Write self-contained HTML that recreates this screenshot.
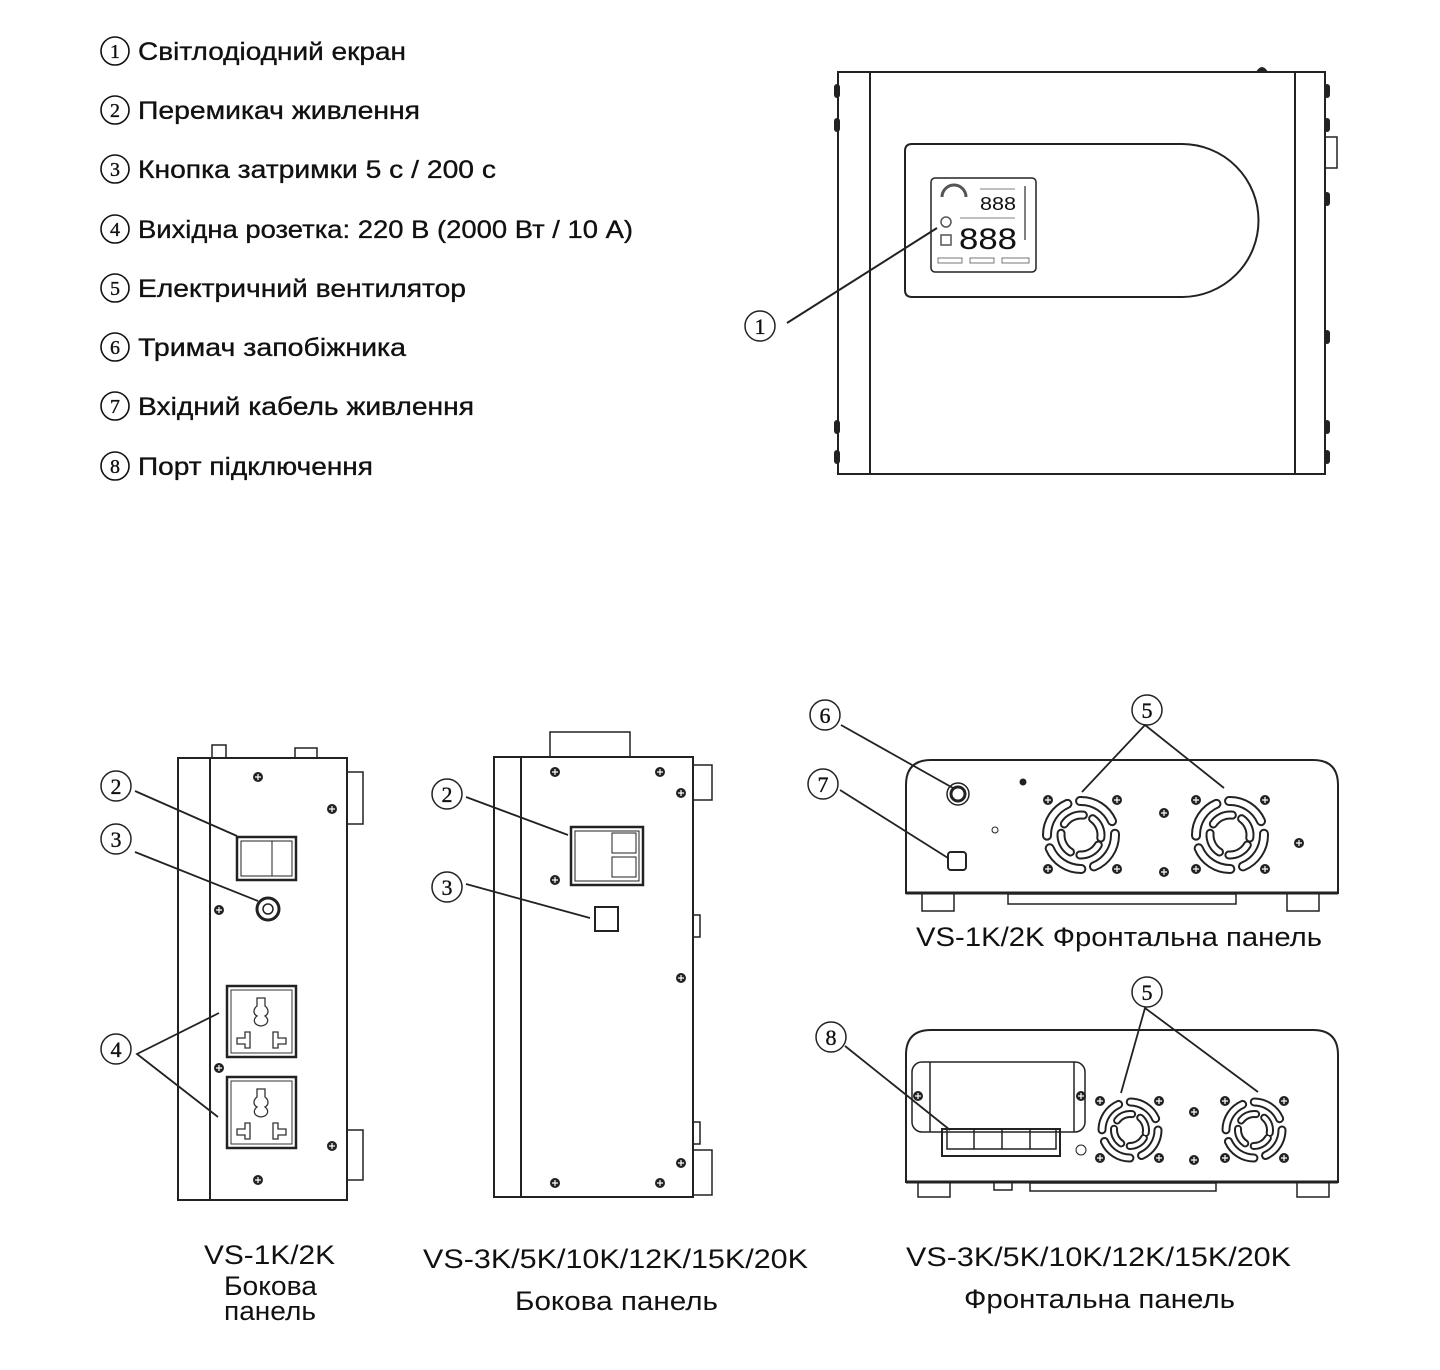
<!DOCTYPE html>
<html><head><meta charset="utf-8">
<style>
html,body{margin:0;padding:0;background:#fff;}
svg{display:block;}
.t{font-family:"Liberation Sans","DejaVu Sans",sans-serif;fill:#111;}
.n{font-family:"Liberation Serif",serif;fill:#111;}
.lg{stroke:#111;stroke-width:0.35;}
</style></head><body>
<svg width="1440" height="1370" viewBox="0 0 1440 1370" xmlns="http://www.w3.org/2000/svg">
<defs>
<g id="scr"><circle r="5" fill="#222"/><path d="M-3,0H3M0,-3V3" stroke="#fff" stroke-width="1.2"/></g>
<g id="fan1">
 <circle r="34" fill="none" stroke="#222" stroke-width="10" stroke-dasharray="40 13" stroke-linecap="round"/>
 <circle r="34" fill="none" stroke="#fff" stroke-width="6" stroke-dasharray="40 13" stroke-linecap="round"/>
 <circle r="20" fill="none" stroke="#222" stroke-width="9" stroke-dasharray="22 10" stroke-linecap="round" transform="rotate(30)"/>
 <circle r="20" fill="none" stroke="#fff" stroke-width="5" stroke-dasharray="22 10" stroke-linecap="round" transform="rotate(30)"/>
</g>
<g id="fan2">
 <circle r="28" fill="none" stroke="#222" stroke-width="9" stroke-dasharray="32 12" stroke-linecap="round"/>
 <circle r="28" fill="none" stroke="#fff" stroke-width="5" stroke-dasharray="32 12" stroke-linecap="round"/>
 <circle r="16" fill="none" stroke="#222" stroke-width="8" stroke-dasharray="17 9" stroke-linecap="round" transform="rotate(30)"/>
 <circle r="16" fill="none" stroke="#fff" stroke-width="4" stroke-dasharray="17 9" stroke-linecap="round" transform="rotate(30)"/>
</g>
<g id="sock">
 <rect x="0" y="0" width="69" height="71" fill="none" stroke="#222" stroke-width="2.5"/>
 <rect x="4" y="4" width="61" height="63" fill="none" stroke="#333" stroke-width="1"/>
 <path d="M30,12 h8 v8 c4,3 4,8 0,10 c4,3 4,9 -4,10 c-8,-1 -8,-7 -4,-10 c-4,-2 -4,-7 0,-10z" fill="none" stroke="#333" stroke-width="1.3"/>
 <path d="M10,52 h8 v-6 h5 v16 h-5 v-4 h-8z" fill="none" stroke="#333" stroke-width="1.3"/>
 <path d="M59,52 h-8 v-6 h-5 v16 h5 v-4 h8z" fill="none" stroke="#333" stroke-width="1.3"/>
</g>
</defs>

<!-- legend -->
<g stroke="#111" stroke-width="1.6" fill="none">
<circle cx="115" cy="51" r="14"/><circle cx="115" cy="110" r="14"/><circle cx="115" cy="169" r="14"/><circle cx="115" cy="229" r="14"/>
<circle cx="115" cy="288" r="14"/><circle cx="115" cy="347" r="14"/><circle cx="115" cy="406" r="14"/><circle cx="115" cy="466" r="14"/>
</g>
<g class="n lg" font-size="20" text-anchor="middle">
<text x="115" y="58">1</text><text x="115" y="117">2</text><text x="115" y="176">3</text><text x="115" y="236">4</text>
<text x="115" y="295">5</text><text x="115" y="354">6</text><text x="115" y="413">7</text><text x="115" y="473">8</text>
</g>
<g class="t lg" font-size="25">
<text x="138" y="60" textLength="268" lengthAdjust="spacingAndGlyphs">Світлодіодний екран</text>
<text x="138" y="119" textLength="282" lengthAdjust="spacingAndGlyphs">Перемикач живлення</text>
<text x="138" y="178" textLength="358" lengthAdjust="spacingAndGlyphs">Кнопка затримки 5 с / 200 с</text>
<text x="138" y="238" textLength="495" lengthAdjust="spacingAndGlyphs">Вихідна розетка: 220 В (2000 Вт / 10 А)</text>
<text x="138" y="297" textLength="328" lengthAdjust="spacingAndGlyphs">Електричний вентилятор</text>
<text x="138" y="356" textLength="268" lengthAdjust="spacingAndGlyphs">Тримач запобіжника</text>
<text x="138" y="415" textLength="336" lengthAdjust="spacingAndGlyphs">Вхідний кабель живлення</text>
<text x="138" y="475" textLength="235" lengthAdjust="spacingAndGlyphs">Порт підключення</text>
</g>

<!-- top device -->
<g stroke="#222" fill="none" stroke-width="2">
<rect x="838" y="72" width="487" height="402"/>
<line x1="870" y1="72" x2="870" y2="474"/><line x1="1295" y1="72" x2="1295" y2="474"/>
<path d="M912,144 H1182 A76.5,76.5 0 0 1 1182,297 H912 Q905,297 905,290 V151 Q905,144 912,144Z"/>
<rect x="931" y="178" width="105" height="94" rx="4" stroke-width="1.5"/>
<rect x="1325" y="137" width="12" height="31" stroke-width="1.5"/>
<line x1="937" y1="228" x2="787" y2="323"/>
<circle cx="760" cy="326" r="15" stroke-width="1.5"/>
</g>
<g fill="#222">
<rect x="834" y="84" width="6" height="14" rx="3"/><rect x="834" y="118" width="6" height="14" rx="3"/>
<rect x="834" y="420" width="6" height="14" rx="3"/><rect x="834" y="450" width="6" height="14" rx="3"/>
<rect x="1324" y="84" width="6" height="14" rx="3"/><rect x="1324" y="118" width="6" height="14" rx="3"/>
<rect x="1324" y="192" width="6" height="14" rx="3"/><rect x="1324" y="330" width="6" height="14" rx="3"/>
<rect x="1324" y="420" width="6" height="14" rx="3"/><rect x="1324" y="450" width="6" height="14" rx="3"/>
<path d="M1256,72 q6,-10 12,0z"/>
</g>
<g stroke="#555" fill="none" stroke-width="1.5">
<path d="M942,197 a12,12 0 0 1 24,0" stroke-width="3"/>
<text x="980" y="210" class="t" font-size="18" fill="#444" stroke="none" textLength="36" lengthAdjust="spacingAndGlyphs">888</text>
<text x="959" y="249" class="t" font-size="30" fill="#444" stroke="none" textLength="58" lengthAdjust="spacingAndGlyphs">888</text>
<line x1="980" y1="189" x2="1015" y2="189" stroke-width="0.8"/><line x1="960" y1="218" x2="1015" y2="218" stroke-width="0.8"/>
<circle cx="946" cy="222" r="5"/><rect x="941" y="235" width="10" height="10"/>
<line x1="1025" y1="186" x2="1025" y2="240"/>
<rect x="938" y="258" width="24" height="5" stroke-width="0.8"/><rect x="970" y="258" width="24" height="5" stroke-width="0.8"/><rect x="1002" y="258" width="27" height="5" stroke-width="0.8"/>
</g>
<text x="760" y="334" class="n lg" font-size="22" text-anchor="middle">1</text>

<!-- side panel 1 -->
<g stroke="#222" fill="none" stroke-width="2">
<rect x="178" y="758" width="169" height="442"/>
<line x1="210" y1="758" x2="210" y2="1200"/>
<path d="M348,772 h15 v52 h-15 M348,1130 h15 v50 h-15" stroke-width="1.5"/>
<rect x="237" y="837" width="59" height="43" stroke-width="2.5"/><rect x="241" y="841" width="51" height="35" stroke-width="1"/><line x1="272" y1="841" x2="272" y2="876" stroke-width="1"/>
<circle cx="268" cy="909" r="11" stroke-width="3"/><circle cx="268" cy="909" r="5" stroke-width="1.5"/>
<line x1="135" y1="791" x2="237" y2="836" stroke-width="1.8"/>
<line x1="135" y1="852" x2="258" y2="901" stroke-width="1.8"/>
<polyline points="219,1013 137,1054 218,1117" stroke-width="1.8"/>
<circle cx="116" cy="786" r="15" stroke-width="1.5"/><circle cx="116" cy="839" r="15" stroke-width="1.5"/><circle cx="116" cy="1049" r="15" stroke-width="1.5"/>
<rect x="212" y="745" width="14" height="13" stroke-width="1.5"/><rect x="295" y="748" width="22" height="10" stroke-width="1.5"/>
</g>
<use href="#sock" x="227" y="986"/><use href="#sock" x="227" y="1077"/>
<use href="#scr" x="258" y="777"/><use href="#scr" x="332" y="809"/><use href="#scr" x="219" y="910"/><use href="#scr" x="219" y="1068"/><use href="#scr" x="332" y="1146"/><use href="#scr" x="258" y="1180"/>
<g class="n lg" font-size="22" text-anchor="middle"><text x="116" y="794">2</text><text x="116" y="847">3</text><text x="116" y="1057">4</text></g>

<!-- side panel 2 -->
<g stroke="#222" fill="none" stroke-width="2">
<rect x="494" y="757" width="199" height="440"/>
<line x1="521" y1="757" x2="521" y2="1197"/>
<rect x="550" y="732" width="80" height="25" stroke-width="1.5"/>
<path d="M694,765 h18 v35 h-18 M694,1150 h18 v45 h-18 M694,915 h6 v22 h-6 M694,1122 h6 v22 h-6" stroke-width="1.5"/>
<rect x="571" y="827" width="72" height="58" stroke-width="2.5"/><rect x="575" y="831" width="64" height="50" stroke-width="1"/>
<rect x="612" y="833" width="24" height="20" stroke-width="1"/><rect x="612" y="857" width="24" height="20" stroke-width="1"/>
<rect x="595" y="907" width="23" height="24" stroke-width="2"/>
<line x1="466" y1="797" x2="568" y2="835" stroke-width="1.8"/>
<line x1="466" y1="884" x2="590" y2="918" stroke-width="1.8"/>
<circle cx="447" cy="794" r="15" stroke-width="1.5"/><circle cx="447" cy="887" r="15" stroke-width="1.5"/>
</g>
<use href="#scr" x="555" y="772"/><use href="#scr" x="660" y="772"/><use href="#scr" x="681" y="793"/><use href="#scr" x="555" y="880"/><use href="#scr" x="681" y="978"/><use href="#scr" x="681" y="1163"/><use href="#scr" x="555" y="1183"/><use href="#scr" x="660" y="1183"/>
<g class="n lg" font-size="22" text-anchor="middle"><text x="447" y="802">2</text><text x="447" y="895">3</text></g>

<!-- front panel 1 -->
<g stroke="#222" fill="none" stroke-width="2">
<path d="M906,893 V785 Q906,760 931,760 H1313 Q1338,760 1338,785 V893 Z"/>
<line x1="906" y1="893" x2="1338" y2="893" stroke-width="3"/>
<path d="M922,893 v18 h32 v-18 M1287,893 v18 h32 v-18" stroke-width="1.5"/>
<rect x="1008" y="894" width="228" height="10" stroke-width="1.5"/>
<circle cx="958" cy="794" r="11" stroke-width="1.5"/><circle cx="958" cy="794" r="7" stroke-width="3"/>
<rect x="948" y="852" width="18" height="18" rx="3" stroke-width="2"/>
<circle cx="995" cy="830" r="3" stroke-width="1"/><circle cx="1023" cy="782" r="2.5" fill="#222"/>
<line x1="841" y1="725" x2="953" y2="788" stroke-width="1.8"/>
<line x1="840" y1="790" x2="948" y2="858" stroke-width="1.8"/>
<polyline points="1082,792 1145,725 1224,788" stroke-width="1.8"/>
<circle cx="825" cy="715" r="15" stroke-width="1.5"/><circle cx="823" cy="784" r="15" stroke-width="1.5"/><circle cx="1147" cy="710" r="15" stroke-width="1.5"/>
</g>
<use href="#fan1" x="1081" y="835"/><use href="#fan1" x="1230" y="835"/>
<use href="#scr" x="1048" y="800"/><use href="#scr" x="1117" y="800"/><use href="#scr" x="1048" y="869"/><use href="#scr" x="1117" y="869"/>
<use href="#scr" x="1196" y="800"/><use href="#scr" x="1265" y="800"/><use href="#scr" x="1196" y="869"/><use href="#scr" x="1265" y="869"/>
<use href="#scr" x="1164" y="813"/><use href="#scr" x="1164" y="872"/><use href="#scr" x="1299" y="843"/>
<g class="n lg" font-size="22" text-anchor="middle"><text x="825" y="723">6</text><text x="823" y="792">7</text><text x="1147" y="718">5</text></g>
<text x="916" y="946" class="t" font-size="27" textLength="406" lengthAdjust="spacingAndGlyphs">VS-1K/2K Фронтальна панель</text>

<!-- front panel 2 -->
<g stroke="#222" fill="none" stroke-width="2">
<path d="M906,1182 V1055 Q906,1030 931,1030 H1313 Q1338,1030 1338,1055 V1182 Z"/>
<line x1="906" y1="1182" x2="1338" y2="1182" stroke-width="3"/>
<path d="M918,1182 v15 h32 v-15 M1297,1182 v15 h32 v-15 M994,1182 v8 h18 v-8" stroke-width="1.5"/>
<rect x="1030" y="1183" width="186" height="8" stroke-width="1.5"/>
<rect x="912" y="1062" width="173" height="70" rx="10" stroke-width="1.5"/>
<line x1="930" y1="1062" x2="930" y2="1132" stroke-width="1.5"/><line x1="1074" y1="1062" x2="1074" y2="1132" stroke-width="1.5"/>
<rect x="942" y="1129" width="118" height="27" stroke-width="2"/>
<path d="M947,1129 v20 h27 v-20 M974,1149 h28 v-20 M1002,1149 h28 v-20 M1030,1149 h26 v-20" stroke-width="1.5"/>
<circle cx="1081" cy="1150" r="5" stroke-width="1"/>
<line x1="845" y1="1046" x2="950" y2="1130" stroke-width="1.8"/>
<polyline points="1121,1093 1145,1008 1258,1092" stroke-width="1.8"/>
<circle cx="831" cy="1037" r="15" stroke-width="1.5"/><circle cx="1147" cy="992" r="15" stroke-width="1.5"/>
</g>
<use href="#fan2" x="1130" y="1130"/><use href="#fan2" x="1254" y="1130"/>
<use href="#scr" x="1100" y="1101"/><use href="#scr" x="1159" y="1101"/><use href="#scr" x="1100" y="1158"/><use href="#scr" x="1159" y="1158"/>
<use href="#scr" x="1225" y="1101"/><use href="#scr" x="1284" y="1101"/><use href="#scr" x="1225" y="1158"/><use href="#scr" x="1284" y="1158"/>
<use href="#scr" x="1194" y="1112"/><use href="#scr" x="1194" y="1160"/><use href="#scr" x="918" y="1096"/><use href="#scr" x="1081" y="1096"/>
<g class="n lg" font-size="22" text-anchor="middle"><text x="831" y="1045">8</text><text x="1147" y="1000">5</text></g>

<!-- captions -->
<g class="t" font-size="27">
<text x="204" y="1264" textLength="131" lengthAdjust="spacingAndGlyphs">VS-1K/2K</text>
<text x="224" y="1295" textLength="93" lengthAdjust="spacingAndGlyphs">Бокова</text>
<text x="224" y="1320" textLength="92" lengthAdjust="spacingAndGlyphs">панель</text>
<text x="423" y="1268" textLength="385" lengthAdjust="spacingAndGlyphs">VS-3K/5K/10K/12K/15K/20K</text>
<text x="515" y="1310" textLength="203" lengthAdjust="spacingAndGlyphs">Бокова  панель</text>
<text x="906" y="1266" textLength="385" lengthAdjust="spacingAndGlyphs">VS-3K/5K/10K/12K/15K/20K</text>
<text x="964" y="1308" textLength="271" lengthAdjust="spacingAndGlyphs">Фронтальна  панель</text>
</g>
</svg>
</body></html>
